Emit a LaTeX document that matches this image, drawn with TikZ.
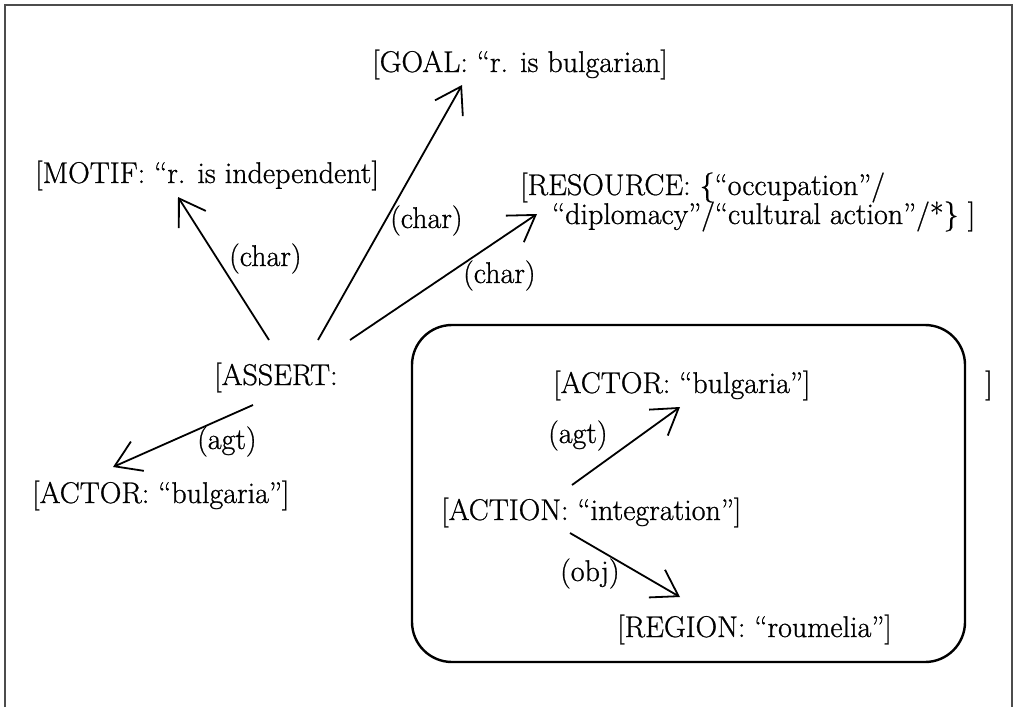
\documentclass[tikz,border=0pt]{standalone}
\usepackage{fontspec}
\newfontfamily\cgfont{Latin Modern Roman}[FakeBold=0.8]
\usetikzlibrary{arrows.meta}
\begin{document}
\begin{tikzpicture}[x=1pt,y=-1pt,
  lbl/.style={inner sep=0pt, anchor=base west, font=\cgfont\fontsize{30}{32}\selectfont},
  rel/.style={lbl},
  arr/.style={line width=1.8pt, -{Straight Barb[length=25pt,width=32pt,line width=1.8pt]}},
  frame/.style={line width=2pt, draw=black!70},
  ctx/.style={line width=2.4pt, rounded corners=40pt}]
\useasboundingbox (0,0) rectangle (1016,707);

% outer frame, open at the bottom
\draw[frame] (5,707) -- (5,5) -- (1012,5) -- (1012,707);

% nested context of the assertion
\draw[ctx] (412,325) rectangle (965,662);

% concepts
\node[lbl] (goal)   at (372,72)  {[GOAL: “r. is bulgarian]};
\node[lbl] (motif)  at (35,183)  {[MOTIF: “r. is independent]};
\node[lbl] (res)    at (520,195) {[RESOURCE: \{“occupation”/};
\node[lbl] (res2)   at (552,224) {“diplomacy”/“cultural action”/*\} ]};
\node[lbl] (assert) at (214,385) {[ASSERT:};
\node[lbl] (actorL) at (32,503)  {[ACTOR: “bulgaria”]};
\node[lbl] (actorR) at (553,393) {[ACTOR: “bulgaria”]};
\node[lbl] (close)  at (985,393) {]};
\node[lbl] (action) at (441,520) {[ACTION: “integration”]};
\node[lbl] (region) at (617,637) {[REGION: “roumelia”]};

% relation labels
\node[rel] (r1) at (229,266) {(char)};
\node[rel] (r2) at (390,228) {(char)};
\node[rel] (r3) at (463,283) {(char)};
\node[rel] (r4) at (197,449) {(agt)};
\node[rel] (r5) at (548,443) {(agt)};
\node[rel] (r6) at (560,581) {(obj)};

% relations
\draw[arr] ([shift={(55,-45)}]assert.base west)  -- ([shift={(143,14)}]motif.base west);
\draw[arr] ([shift={(104,-45)}]assert.base west) -- ([shift={(90,13)}]goal.base west);
\draw[arr] ([shift={(136,-45)}]assert.base west) -- ([shift={(-15,-10)}]res2.base west);
\draw[arr] ([shift={(39,20)}]assert.base west)   -- ([shift={(81,-36)}]actorL.base west);
\draw[arr] ([shift={(131,-35)}]action.base west) -- ([shift={(127,14)}]actorR.base west);
\draw[arr] ([shift={(129,13)}]action.base west)  -- ([shift={(63,-40)}]region.base west);
\end{tikzpicture}
\end{document}
